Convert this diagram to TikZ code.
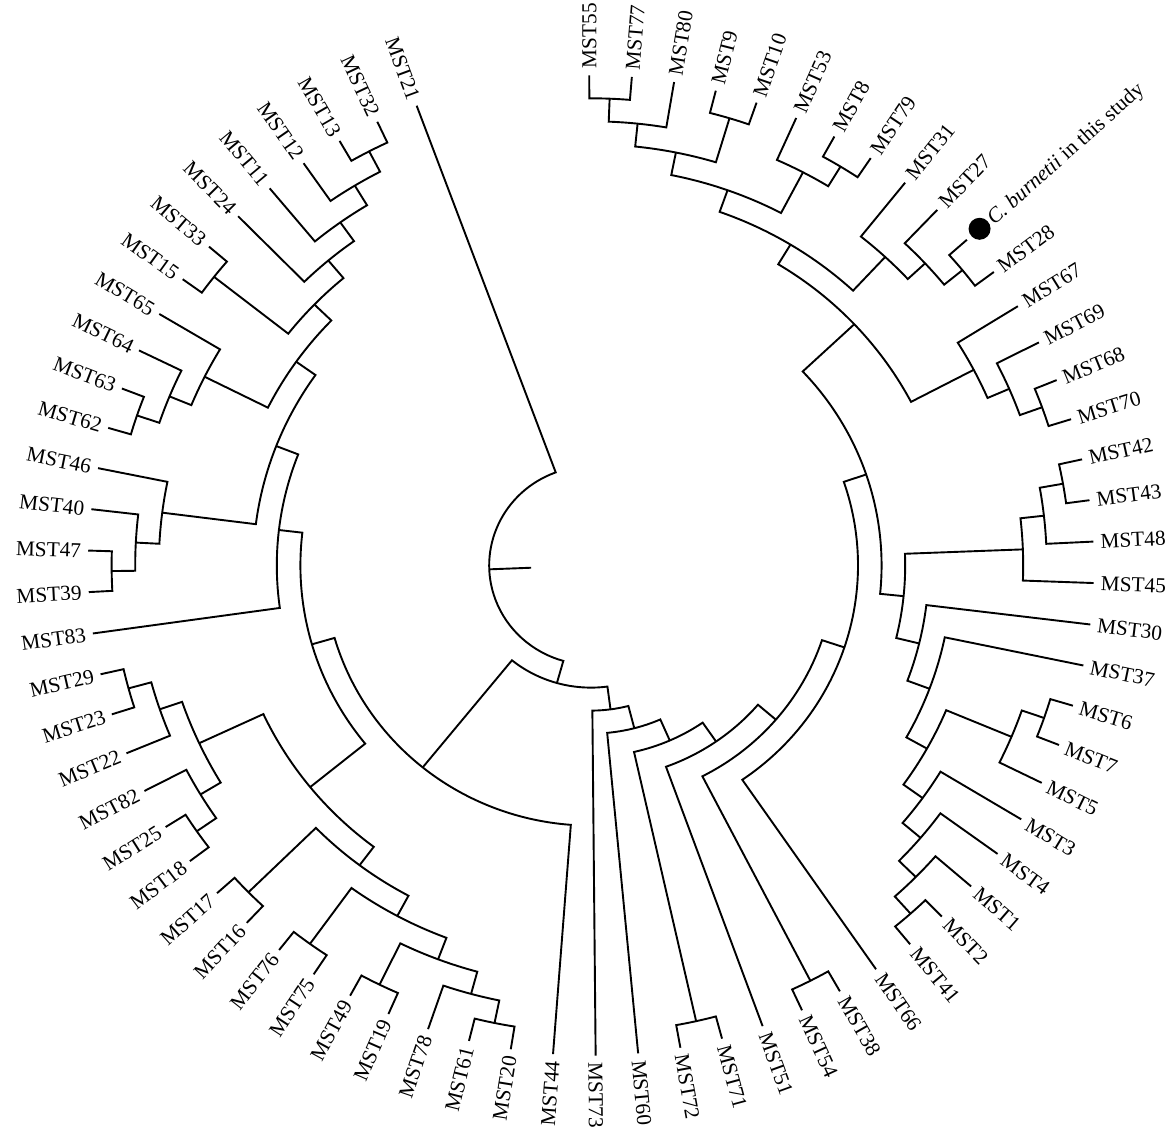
\documentclass[tikz,border=0pt]{standalone}
\usepackage{fontspec}
\setmainfont{Liberation Serif}
\tikzset{
  lab/.style={font=\fontsize{21.3pt}{25pt}\selectfont, inner sep=0pt, text height=14.5pt, text depth=0pt},
  branch/.style={line width=1.9pt, line join=miter}
}
% cl{r}{angle1}{r1}{angle2}{r2}: arc of a node at radius r joining two children
\newcommand\cl[5]{\draw[branch] (#2:#3) -- (#2:#1) arc[start angle=#2, end angle=#4, radius=#1] -- (#4:#5);}
\newcommand\labR[3]{\node[lab,rotate=#2,anchor=west] (#1) at (#2:510) {#3};}
\newcommand\labL[3]{\node[lab,rotate=#2-180,anchor=east] (#1) at (#2:510) {#3};}
\begin{document}
\begin{tikzpicture}[x=1pt,y=1pt,yscale=0.9744]
\useasboundingbox (-591,-589.7) rectangle (579,580.3);
% ---------- upper right clade
\cl{479.4}{90.20}{503}{85.34}{503}
\cl{455.8}{87.77}{479.4}{80.49}{503}
\cl{479.4}{75.63}{503}{70.78}{503}
\cl{432.2}{84.13}{455.8}{73.205}{479.4}
\cl{479.4}{61.06}{503}{56.21}{503}
\cl{455.8}{65.92}{503}{58.635}{479.4}
\cl{408.6}{78.67}{432.2}{62.28}{455.8}
\cl{479.4}{41.64}{503}{36.78}{503}
\cl{455.8}{46.50}{503}{39.21}{479.4}
\cl{432.2}{51.35}{503}{42.855}{455.8}
\cl{385.0}{70.475}{408.6}{47.10}{432.2}
\cl{479.4}{22.22}{503}{17.36}{503}
\cl{455.8}{27.07}{503}{19.79}{479.4}
\cl{432.2}{31.93}{503}{23.43}{455.8}
\cl{361.4}{58.79}{385.0}{27.68}{432.2}
% ---------- right clade
\cl{479.4}{12.50}{503}{7.65}{503}
\cl{455.8}{10.075}{479.4}{2.79}{503}
\cl{432.2}{6.43}{455.8}{-2.06}{503}
\cl{479.4}{-16.63}{503}{-21.49}{503}
\cl{455.8}{-19.06}{479.4}{-26.34}{503}
\cl{479.4}{-45.77}{503}{-50.62}{503}
\cl{455.8}{-40.91}{503}{-48.195}{479.4}
\cl{432.2}{-36.06}{503}{-44.55}{455.8}
\cl{408.6}{-31.20}{503}{-40.305}{432.2}
\cl{385.0}{-22.70}{455.8}{-35.75}{408.6}
\cl{361.4}{-11.78}{503}{-29.225}{385.0}
\cl{337.8}{-6.92}{503}{-20.50}{361.4}
\cl{314.2}{2.185}{432.2}{-13.71}{337.8}
\cl{290.6}{43.235}{361.4}{-5.76}{314.2}
\cl{267.0}{-55.48}{503}{18.74}{290.6}
% ---------- lower right
\cl{479.4}{-65.19}{503}{-60.34}{503}
\cl{243.4}{-62.765}{479.4}{-18.37}{267.0}
\cl{219.8}{-70.05}{503}{-40.57}{243.4}
\cl{479.4}{-74.90}{503}{-79.76}{503}
\cl{196.2}{-77.33}{479.4}{-55.31}{219.8}
\cl{172.6}{-84.62}{503}{-66.32}{196.2}
\cl{149.0}{-89.47}{503}{-75.47}{172.6}
% ---------- lower left
\cl{479.4}{255.96}{503}{260.82}{503}
\cl{455.8}{251.10}{503}{258.39}{479.4}
\cl{479.4}{246.25}{503}{241.39}{503}
\cl{432.2}{243.82}{479.4}{254.745}{455.8}
\cl{479.4}{236.54}{503}{231.68}{503}
\cl{408.6}{234.11}{479.4}{249.28}{432.2}
\cl{479.4}{226.82}{503}{221.97}{503}
\cl{385.0}{224.395}{479.4}{241.70}{408.6}
\cl{479.4}{217.11}{503}{212.26}{503}
\cl{455.8}{214.685}{479.4}{207.40}{503}
\cl{479.4}{197.69}{503}{192.83}{503}
\cl{455.8}{202.54}{503}{195.26}{479.4}
\cl{432.2}{211.04}{455.8}{198.90}{455.8}
\cl{361.4}{233.05}{385.0}{204.97}{432.2}
% ---------- upper left
\cl{479.4}{183.12}{503}{178.26}{503}
\cl{455.8}{180.69}{479.4}{173.41}{503}
\cl{432.2}{177.05}{455.8}{168.55}{503}
\cl{479.4}{163.70}{503}{158.84}{503}
\cl{455.8}{161.27}{479.4}{153.98}{503}
\cl{432.2}{157.625}{455.8}{149.13}{503}
\cl{479.4}{144.27}{503}{139.42}{503}
\cl{479.4}{119.99}{503}{115.14}{503}
\cl{455.8}{124.85}{503}{117.565}{479.4}
\cl{432.2}{129.70}{503}{121.21}{455.8}
\cl{408.6}{134.56}{503}{125.455}{432.2}
\cl{385.0}{141.845}{479.4}{130.01}{408.6}
\cl{361.4}{153.38}{432.2}{135.93}{385.0}
\cl{337.8}{172.80}{432.2}{144.655}{361.4}
\cl{314.2}{187.98}{503}{158.73}{337.8}
\cl{290.6}{219.01}{361.4}{173.355}{314.2}
\cl{267.0}{265.67}{503}{196.18}{290.6}
% ---------- root
\cl{125.4}{230.925}{267.0}{277.53}{149.0}
\cl{101.8}{110.28}{503}{254.23}{125.4}
\coordinate (rootin) at (182.255:60);
\coordinate (rootout) at (182.255:101.8);
\draw[branch] (rootin) -- (rootout);
% ---------- labels (right half)
\labR{l55}{90.20}{MST55}
\labR{l77}{85.34}{MST77}
\labR{l80}{80.49}{MST80}
\labR{l9}{75.63}{MST9}
\labR{l10}{70.78}{MST10}
\labR{l53}{65.92}{MST53}
\labR{l8}{61.06}{MST8}
\labR{l79}{56.21}{MST79}
\labR{l31}{51.35}{MST31}
\labR{l27}{46.50}{MST27}
\node[circle, fill=black, inner sep=0pt, minimum size=22pt] (dot) at (41.64:520) {};
\node[lab,rotate=41.64,anchor=west] (lcb) at (41.64:533) {\textit{C. burnetii} in this study};
\labR{l28}{36.78}{MST28}
\labR{l67}{31.93}{MST67}
\labR{l69}{27.07}{MST69}
\labR{l68}{22.22}{MST68}
\labR{l70}{17.36}{MST70}
\labR{l42}{12.50}{MST42}
\labR{l43}{7.65}{MST43}
\labR{l48}{2.79}{MST48}
\labR{l45}{-2.06}{MST45}
\labR{l30}{-6.92}{MST30}
\labR{l37}{-11.78}{MST37}
\labR{l6}{-16.63}{MST6}
\labR{l7}{-21.49}{MST7}
\labR{l5}{-26.34}{MST5}
\labR{l3}{-31.20}{MST3}
\labR{l4}{-36.06}{MST4}
\labR{l1}{-40.91}{MST1}
\labR{l2}{-45.77}{MST2}
\labR{l41}{-50.62}{MST41}
\labR{l66}{-55.48}{MST66}
\labR{l38}{-60.34}{MST38}
\labR{l54}{-65.19}{MST54}
\labR{l51}{-70.05}{MST51}
\labR{l71}{-74.90}{MST71}
\labR{l72}{-79.76}{MST72}
\labR{l60}{-84.62}{MST60}
\labR{l73}{-89.47}{MST73}
% ---------- labels (left half)
\labL{l44}{265.67}{MST44}
\labL{l20}{260.82}{MST20}
\labL{l61}{255.96}{MST61}
\labL{l78}{251.10}{MST78}
\labL{l19}{246.25}{MST19}
\labL{l49}{241.39}{MST49}
\labL{l75}{236.54}{MST75}
\labL{l76}{231.68}{MST76}
\labL{l16}{226.82}{MST16}
\labL{l17}{221.97}{MST17}
\labL{l18}{217.11}{MST18}
\labL{l25}{212.26}{MST25}
\labL{l82}{207.40}{MST82}
\labL{l22}{202.54}{MST22}
\labL{l23}{197.69}{MST23}
\labL{l29}{192.83}{MST29}
\labL{l83}{187.98}{MST83}
\labL{l39}{183.12}{MST39}
\labL{l47}{178.26}{MST47}
\labL{l40}{173.41}{MST40}
\labL{l46}{168.55}{MST46}
\labL{l62}{163.70}{MST62}
\labL{l63}{158.84}{MST63}
\labL{l64}{153.98}{MST64}
\labL{l65}{149.13}{MST65}
\labL{l15}{144.27}{MST15}
\labL{l33}{139.42}{MST33}
\labL{l24}{134.56}{MST24}
\labL{l11}{129.70}{MST11}
\labL{l12}{124.85}{MST12}
\labL{l13}{119.99}{MST13}
\labL{l32}{115.14}{MST32}
\labL{l21}{110.28}{MST21}
\end{tikzpicture}
\end{document}
